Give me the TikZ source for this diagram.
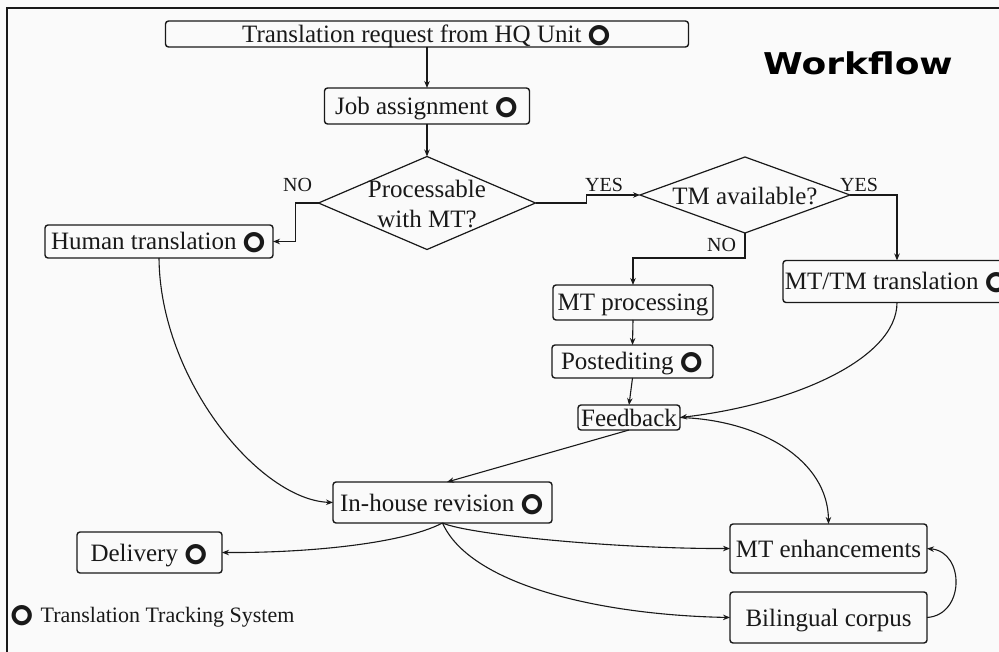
\documentclass[tikz,border=0pt]{standalone}
\usepackage{fontspec}
\setmainfont{Liberation Serif}
\newfontfamily\symfnt{Noto Emoji}
\newfontfamily\wfnt{DejaVu Sans}
\usetikzlibrary{shapes.geometric,arrows.meta}
\definecolor{bg}{RGB}{250,250,250}
\definecolor{ink}{RGB}{25,25,25}
\newcommand{\tts}{{\symfnt\fontsize{20}{20}\selectfont ⭕}}
\begin{document}
\begin{tikzpicture}[x=1pt,y=-1pt,
 box/.style={draw=ink, line width=1.4pt, rounded corners=3pt, inner sep=0pt, outer sep=0pt,
   font=\fontsize{25}{30}\selectfont, text height=18pt, text depth=1pt, text=ink},
 dia/.style={draw=ink, line width=1.2pt, diamond, inner sep=0pt, outer sep=0pt},
 txt/.style={inner sep=0pt, font=\fontsize{25}{30}\selectfont, text=ink},
 lbl/.style={inner sep=0pt, font=\fontsize{20}{24}\selectfont, text=ink, anchor=base west},
 arr/.style={draw=ink, line width=1.1pt, -{Stealth[length=7pt,width=5.5pt]}},
]
\fill[bg] (0,0) rectangle (999,652);
\useasboundingbox (0,0) rectangle (999,652);
\draw[ink, line width=2.6pt] (7,670) -- (7,8) -- (1020,8);

\node[box, minimum width=523pt, minimum height=26pt] (req) at (427,34) {Translation request from HQ Unit\hspace{5pt}\tts};
\node[box, minimum width=205pt, minimum height=36pt] (job) at (427,106) {Job assignment\hspace{5pt}\tts};
\node[dia, minimum width=217pt, minimum height=93pt] (proc) at (427,203) {};
\node[txt, align=center] (proct) at (427,204) {Processable\\with MT?};
\node[dia, minimum width=210pt, minimum height=76pt] (tm) at (745,195) {};
\node[txt] (tmt) at (745,196) {TM available?};
\node[box, minimum width=228pt, minimum height=33pt] (human) at (159,241.5) {Human translation\hspace{5pt}\tts};
\node[box, minimum width=228pt, minimum height=42pt] (mttm) at (897,281.5) {MT/TM translation\hspace{5pt}\tts};
\node[box, minimum width=160pt, minimum height=35pt] (mtp) at (633,302.5) {MT processing};
\node[box, minimum width=161pt, minimum height=33pt] (post) at (632.5,361.5) {Postediting\hspace{5pt}\tts};
\node[box, minimum width=102pt, minimum height=25pt] (fb) at (629,417.5) {Feedback};
\node[box, minimum width=219pt, minimum height=41pt] (inh) at (442.5,502.5) {In-house revision\hspace{5pt}\tts};
\node[box, minimum width=145pt, minimum height=41pt] (del) at (149.5,552.5) {Delivery\hspace{5pt}\tts};
\node[box, minimum width=197pt, minimum height=49pt] (mte) at (828.5,548.5) {MT enhancements};
\node[box, minimum width=197pt, minimum height=51pt] (bc) at (828.5,617.5) {Bilingual corpus};

\node[anchor=base west, inner sep=0pt, font=\fontsize{22}{26}\selectfont, text=ink] (legend) at (9,622) {\tts\hspace{6pt}Translation Tracking System};
\node[anchor=base west, inner sep=0pt, font=\wfnt\bfseries\fontsize{30}{30}\selectfont, text=black] (title) at (763,75) {\scalebox{1.2}[1]{Workflow}};

\node[lbl] (no1) at (283,192) {NO};
\node[lbl] (yes1) at (585,192) {YES};
\node[lbl] (yes2) at (840,192) {YES};
\node[lbl] (no2) at (707,252) {NO};

\draw[arr] (req.south) -- (job.north);
\draw[arr] (job.south) -- (proc.north);
\draw[arr] (proc.west) -- ++(-23,0) |- (human.east);
\draw[arr] (proc.east) -- ++(51,0) |- (tm.west);
\draw[arr] (tm.east) -| (mttm.north);
\draw[arr] (tm.south) -- ++(0,25) -| (mtp.north);
\draw[arr] (mtp.south) -- (post.north);
\draw[arr] (post.south) -- (fb.north);
\draw[arr] (mttm.south) .. controls (897,360) and (790,405) .. (fb.east);
\draw[arr] (fb.south) -- ([xshift=4.5pt]inh.north);
\draw[arr] (fb.east) .. controls (760,420) and (828,460) .. (mte.north);
\draw[arr] (bc.east) .. controls (965,615) and (965,552) .. (mte.east);
\draw[arr] (inh.south) .. controls (400,545) and (300,553) .. (del.east);
\draw[arr] (inh.south) .. controls (470,535) and (620,549) .. (mte.west);
\draw[arr] (inh.south) .. controls (470,585) and (600,615) .. (bc.west);
\draw[arr] (human.south) .. controls (160,380) and (260,500) .. (inh.west);
\end{tikzpicture}
\end{document}
